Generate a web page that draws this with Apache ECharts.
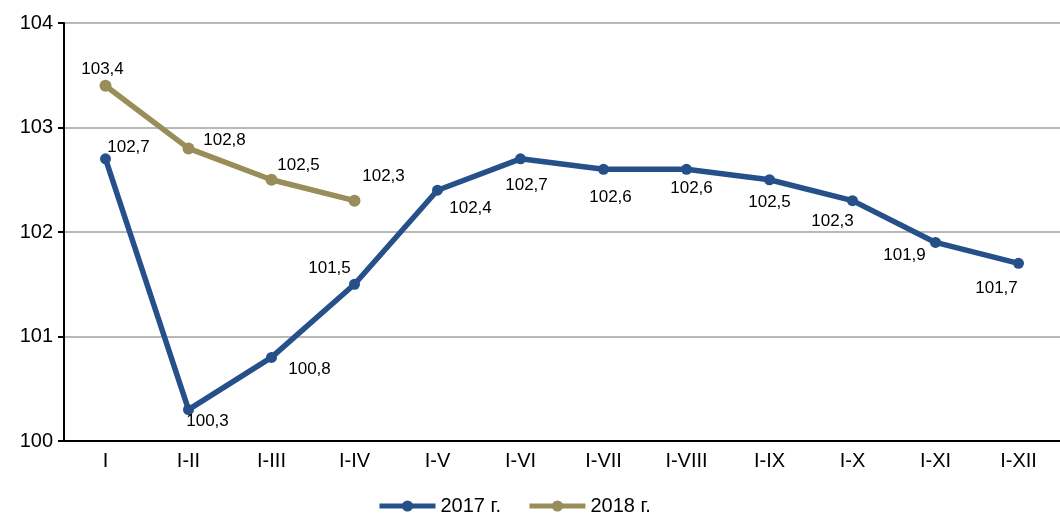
<!DOCTYPE html>
<html>
<head>
<meta charset="utf-8">
<script src="https://cdn.jsdelivr.net/npm/echarts@6/dist/echarts.min.js"></script>
<style>
  html, body { margin: 0; padding: 0; background: #fff; }
  #main { width: 1060px; height: 516px; }
</style>
</head>
<body>
<div id="main"></div>
<script>
// данные
var months = ['I', 'I-II', 'I-III', 'I-IV', 'I-V', 'I-VI', 'I-VII', 'I-VIII', 'I-IX', 'I-X', 'I-XI', 'I-XII'];
var values2017 = [102.7, 100.3, 100.8, 101.5, 102.4, 102.7, 102.6, 102.6, 102.5, 102.3, 101.9, 101.7];
var values2018 = [103.4, 102.8, 102.5, 102.3];
var yTicks = [100, 101, 102, 103, 104];

// смещения подписей (px от центра точки)
var off2017 = [[23, -12], [19, 12], [38, 12], [-25, -16], [33, 18], [6, 26], [7, 28], [5, 19], [0, 23], [-20, 21], [-31, 13], [-22, 25]];
var off2018 = [[-3, -16], [36, -8], [27, -14], [29, -24]];

function withLabels(vals, offs) {
  return vals.map(function (v, i) {
    return { value: v, label: { offset: offs[i] } };
  });
}

var fmt = function (p) { return String(p.value).replace('.', ','); };

var chart = echarts.init(document.getElementById('main'));
var option = {
  animation: false,
  textStyle: { fontFamily: 'Liberation Sans, Arial, sans-serif' },
  grid: { left: 64, right: 0, top: 23, bottom: 75 },
  legend: {
    top: 491,
    left: 372,
    itemWidth: 56,
    itemHeight: 14,
    itemGap: 26,
    textStyle: { fontSize: 20, color: '#000' },
    lineStyle: { width: 5 },
    data: ['2017 г.', '2018 г.']
  },
  xAxis: {
    type: 'category',
    data: months,
    axisLine: { lineStyle: { color: '#000', width: 2 } },
    axisTick: { length: 6, lineStyle: { color: '#000', width: 2 } },
    axisLabel: { fontSize: 20, color: '#000', margin: 10 }
  },
  yAxis: {
    type: 'value',
    min: yTicks[0],
    max: yTicks[yTicks.length - 1],
    interval: 1,
    axisLine: { show: true, lineStyle: { color: '#000', width: 2 } },
    axisTick: { show: true, length: 6, lineStyle: { color: '#000', width: 2 } },
    axisLabel: { fontSize: 20, color: '#000', margin: 11 },
    splitLine: { lineStyle: { color: '#a0a0a0', width: 1.5 } }
  },
  series: [
    {
      name: '2017 г.',
      type: 'line',
      data: withLabels(values2017, off2017),
      symbol: 'circle',
      symbolSize: 11,
      lineStyle: { color: '#25508a', width: 5.5 },
      itemStyle: { color: '#25508a' },
      label: { show: true, position: 'inside', fontSize: 17, color: '#000', formatter: fmt }
    },
    {
      name: '2018 г.',
      type: 'line',
      data: withLabels(values2018, off2018),
      symbol: 'circle',
      symbolSize: 12,
      lineStyle: { color: '#998e59', width: 5.5 },
      itemStyle: { color: '#998e59' },
      label: { show: true, position: 'inside', fontSize: 17, color: '#000', formatter: fmt }
    }
  ]
};
chart.setOption(option);
window.addEventListener('resize', function () {
  chart.resize();
});
</script>
</body>
</html>
